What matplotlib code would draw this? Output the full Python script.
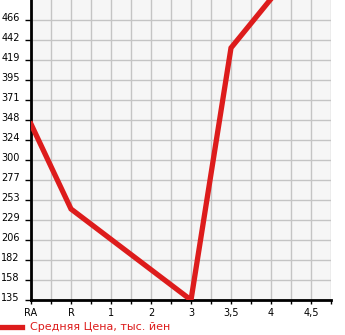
import matplotlib
matplotlib.use("Agg")
import matplotlib.pyplot as plt
from matplotlib.ticker import FixedLocator, NullFormatter
import matplotlib.transforms as mtransforms

categories = ["RA", "R", "1", "2", "3", "3,5", "4", "4,5"]
point_cats = ["RA", "R", "3", "3,5", "4"]
values = [343, 242.6, 135, 433, 491]
ytick_labels = ["135", "158", "182", "206", "229", "253", "277", "300",
                "324", "348", "371", "395", "419", "442", "466"]
legend_label = "Средняя Цена, тыс. йен"

ymin = 135.0
ystep = (466.0 - 135.0) / 14
ymax = 466.0 + ystep

fig = plt.figure(figsize=(3.45, 3.35), dpi=100)
ax = fig.add_axes([31/345, 35/335, 300/345, 300/335])
ax.set_facecolor("#f6f6f6")

xs = [categories.index(c) for c in point_cats]
red = "#dd1c1c"
ax.plot(xs, values, color=red, lw=3.8, solid_joinstyle="miter", zorder=3, clip_on=True)

ax.set_xlim(0, len(categories) - 0.5)
ax.set_ylim(ymin, ymax)

yticks = [ymin + i * ystep for i in range(15)]
ax.set_yticks(yticks)
ax.set_yticklabels(ytick_labels)

ax.set_xticks(range(len(categories)))
ax.set_xticklabels(categories)
ax.xaxis.set_minor_locator(FixedLocator([i + 0.5 for i in range(len(categories))]))
ax.xaxis.set_minor_formatter(NullFormatter())

ax.grid(True, which="both", color="#c4c4c4", lw=1)
ax.set_axisbelow(True)

for s in ["top", "right"]:
    ax.spines[s].set_visible(False)
for s in ["left", "bottom"]:
    ax.spines[s].set_linewidth(2)
    ax.spines[s].set_color("black")

ax.tick_params(axis="y", which="major", length=4, width=1, pad=4, labelsize=7, direction="out")
ax.tick_params(axis="x", which="both", length=3, width=1, pad=3, labelsize=7, direction="out")

offset = mtransforms.ScaledTranslation(0, 3/100, fig.dpi_scale_trans)
for lab in ax.get_yticklabels():
    lab.set_transform(lab.get_transform() + offset)

# legend
fig.add_artist(plt.Line2D([0/345, 22/345], [8/335, 8/335], color=red, lw=3.8))
fig.text(30/345, 8/335, legend_label, color=red, fontsize=8, va="center", ha="left")

fig.savefig("out.png", dpi=100)
